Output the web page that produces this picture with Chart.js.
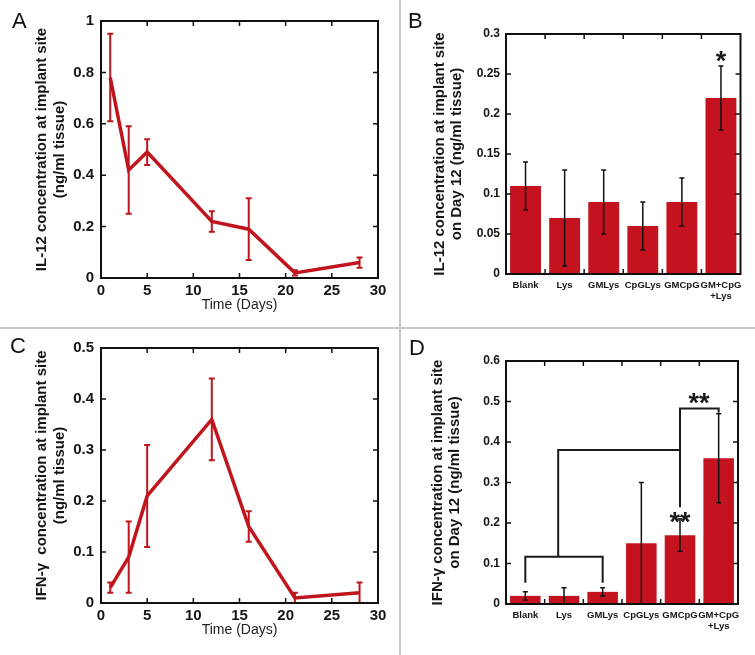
<!DOCTYPE html>
<html><head><meta charset="utf-8">
<script src="https://cdn.jsdelivr.net/npm/chart.js@4.4.0/dist/chart.umd.min.js"></script>
<style>
html,body{margin:0;padding:0;background:#fff;}
#wrap{position:relative;width:755px;height:655px;overflow:hidden;font-family:"Liberation Sans",Arial,Helvetica,sans-serif;}
canvas{position:absolute;}
.lbl{position:absolute;font-size:22px;line-height:22px;color:#111;}
.vdiv{position:absolute;left:399px;top:0;width:2px;height:655px;background:#c8c8c8;}
.hdiv{position:absolute;left:0;top:327px;width:755px;height:2px;background:#c8c8c8;}
</style></head>
<body><div id="wrap">
<canvas id="cA" width="400" height="328" style="left:0;top:0"></canvas>
<canvas id="cB" width="355" height="328" style="left:400px;top:0"></canvas>
<canvas id="cC" width="400" height="327" style="left:0;top:328px"></canvas>
<canvas id="cD" width="355" height="327" style="left:400px;top:328px"></canvas>
<div class="vdiv"></div><div class="hdiv"></div>
<div class="lbl" style="left:12px;top:10px">A</div>
<div class="lbl" style="left:408px;top:10px">B</div>
<div class="lbl" style="left:10px;top:335px">C</div>
<div class="lbl" style="left:409px;top:337px">D</div>
</div>
<script>
// ---------- data ----------
const days = [1, 3, 5, 12, 16, 21, 28];
const il12Time     = [0.78, 0.42, 0.49, 0.22, 0.19, 0.02, 0.06];
const il12TimeLow  = [0.61, 0.25, 0.44, 0.18, 0.07, 0.01, 0.04];
const il12TimeHigh = [0.95, 0.59, 0.54, 0.26, 0.31, 0.03, 0.08];
const ifngTime     = [0.03, 0.09, 0.21, 0.36, 0.15, 0.01, 0.02];
const ifngTimeLow  = [0.02, 0.02, 0.11, 0.28, 0.12, 0.00, 0.00];
const ifngTimeHigh = [0.04, 0.16, 0.31, 0.44, 0.18, 0.02, 0.04];

const groups = ['Blank', 'Lys', 'GMLys', 'CpGLys', 'GMCpG', ['GM+CpG', '+Lys']];
const il12Day12     = [0.11, 0.07, 0.09, 0.06, 0.09, 0.22];
const il12Day12Low  = [0.08, 0.01, 0.05, 0.03, 0.06, 0.18];
const il12Day12High = [0.14, 0.13, 0.13, 0.09, 0.12, 0.26];
const ifngDay12     = [0.02, 0.02, 0.03, 0.15, 0.17, 0.36];
const ifngDay12Low  = [0.01, 0.00, 0.02, 0.00, 0.13, 0.25];
const ifngDay12High = [0.03, 0.04, 0.04, 0.30, 0.21, 0.47];

const timeTicks = [0, 5, 10, 15, 20, 25, 30];
const timeTickLabels = ['0', '5', '10', '15', '20', '25', '30'];
const yTicksA = [0, 0.2, 0.4, 0.6, 0.8, 1];
const yTickLabelsA = ['0', '0.2', '0.4', '0.6', '0.8', '1'];
const yTicksB = [0, 0.05, 0.1, 0.15, 0.2, 0.25, 0.3];
const yTickLabelsB = ['0', '0.05', '0.1', '0.15', '0.2', '0.25', '0.3'];
const yTicksC = [0, 0.1, 0.2, 0.3, 0.4, 0.5];
const yTickLabelsC = ['0', '0.1', '0.2', '0.3', '0.4', '0.5'];
const yTicksD = [0, 0.1, 0.2, 0.3, 0.4, 0.5, 0.6];
const yTickLabelsD = ['0', '0.1', '0.2', '0.3', '0.4', '0.5', '0.6'];

// significance marks (category index, value)
const sigMarksB = [{x: 5, y: 0.274, text: '*'}];
const sigMarksD = [{x: 4.49, y: 0.511, text: '**'}, {x: 4, y: 0.217, text: '**'}];
// brackets in D, as paths of (category index, value)
const bracketsD = [
  [[0, 0.0525], [0, 0.1167], [2, 0.1167], [2, 0.0525]],
  [[0.85, 0.1167], [0.85, 0.38], [4, 0.38]],
  [[4, 0.239], [4, 0.4826], [5, 0.4826], [5, 0.472]]
];

// ---------- styles ----------
const FONT = '"Liberation Sans", Arial, Helvetica, sans-serif';
Chart.defaults.font.family = FONT;
const LINE = '#c0151c';
const BAR = '#c5121f';
const TXT = '#151515';

// ---------- plugins ----------
const errPlugin = {
  id: 'errbars',
  afterDatasetsDraw(chart, args, o) {
    const ds = chart.data.datasets[0];
    if (!ds.errLow) return;
    const meta = chart.getDatasetMeta(0), y = chart.scales.y, ctx = chart.ctx;
    ctx.save();
    ctx.strokeStyle = o.color; ctx.lineWidth = o.width; ctx.lineCap = 'butt';
    meta.data.forEach((el, i) => {
      const x = el.x, y1 = y.getPixelForValue(ds.errLow[i]), y2 = y.getPixelForValue(ds.errHigh[i]);
      ctx.beginPath();
      ctx.moveTo(x, y1); ctx.lineTo(x, y2);
      ctx.moveTo(x - o.cap, y1); ctx.lineTo(x + o.cap, y1);
      ctx.moveTo(x - o.cap, y2); ctx.lineTo(x + o.cap, y2);
      ctx.stroke();
    });
    ctx.restore();
  }
};

const framePlugin = {
  id: 'frame',
  afterDatasetsDraw(chart, args, o) {
    const {ctx, chartArea: a, scales} = chart;
    ctx.save();
    ctx.strokeStyle = '#111';
    const L = 5;
    ctx.lineWidth = 1.5;
    ctx.beginPath();
    let xs;
    if (o.mode === 'category') {
      const n = chart.data.labels.length;
      xs = [];
      for (let k = 1; k < n; k++) xs.push((scales.x.getPixelForValue(k - 1) + scales.x.getPixelForValue(k)) / 2);
    } else {
      xs = scales.x.ticks.map(t => scales.x.getPixelForValue(t.value));
    }
    xs.forEach(x => {
      ctx.moveTo(x, a.bottom); ctx.lineTo(x, a.bottom - L);
      ctx.moveTo(x, a.top); ctx.lineTo(x, a.top + L);
    });
    scales.y.ticks.forEach(t => {
      const y = scales.y.getPixelForValue(t.value);
      ctx.moveTo(a.left, y); ctx.lineTo(a.left + L, y);
      ctx.moveTo(a.right, y); ctx.lineTo(a.right - L, y);
    });
    ctx.stroke();
    ctx.lineWidth = 2;
    ctx.strokeRect(a.left, a.top, a.right - a.left, a.bottom - a.top);
    ctx.restore();
  }
};

const annoPlugin = {
  id: 'anno',
  afterDatasetsDraw(chart, args, o) {
    const ds = chart.data.datasets[0];
    const {ctx, scales} = chart;
    ctx.save();
    if (ds.brackets) {
      ctx.strokeStyle = '#1a1a1a'; ctx.lineWidth = 2; ctx.lineJoin = 'miter';
      ds.brackets.forEach(path => {
        ctx.beginPath();
        path.forEach((p, i) => {
          const px = scales.x.getPixelForValue(p[0]), py = scales.y.getPixelForValue(p[1]);
          if (i === 0) ctx.moveTo(px, py); else ctx.lineTo(px, py);
        });
        ctx.stroke();
      });
    }
    if (ds.marks) {
      ctx.fillStyle = '#1a1a1a';
      ctx.font = 'bold ' + o.size + 'px ' + FONT;
      ctx.textAlign = 'center'; ctx.textBaseline = 'alphabetic';
      ds.marks.forEach(m => {
        const px = scales.x.getPixelForValue(m.x), py = scales.y.getPixelForValue(m.y);
        ctx.fillText(m.text, px, py + o.size * 0.56);
      });
    }
    ctx.restore();
  }
};

function fixedTicks(values) { return s => { s.ticks = values.map(v => ({value: v})); }; }

function timeChart(id, yvals, low, high, yTicks, yLabels, ymax, title, pad, xh, titleBottom) {
  return new Chart(document.getElementById(id), {
    type: 'line',
    data: {datasets: [{
      data: days.map((d, i) => ({x: d, y: yvals[i]})),
      errLow: low, errHigh: high,
      borderColor: LINE, borderWidth: 3.5, pointRadius: 0, tension: 0, fill: false
    }]},
    options: {
      responsive: false, animation: false, devicePixelRatio: 1,
      layout: {padding: pad},
      plugins: {legend: {display: false}, tooltip: {enabled: false},
        errbars: {color: LINE, width: 2, cap: 3}, frame: {mode: 'linear'}},
      scales: {
        x: {type: 'linear', min: 0, max: 30,
          afterBuildTicks: fixedTicks(timeTicks), afterFit: s => { s.height = xh; },
          grid: {display: false, drawTicks: false}, border: {display: false},
          ticks: {padding: 4, color: TXT, font: {size: 15, weight: 'bold'}, maxRotation: 0,
            callback: (v, i) => timeTickLabels[i]},
          title: {display: true, text: 'Time (Days)', color: '#222', font: {size: 14, lineHeight: 1.2},
            padding: {top: 0, bottom: titleBottom}}},
        y: {type: 'linear', min: 0, max: ymax,
          afterBuildTicks: fixedTicks(yTicks), afterFit: s => { s.width = 101; },
          grid: {display: false, drawTicks: false}, border: {display: false},
          ticks: {padding: 7, color: TXT, font: {size: 15, weight: 'bold'}, callback: (v, i) => yLabels[i]},
          title: {display: true, text: title, color: TXT, font: {size: 15, weight: 'bold', lineHeight: 1.2},
            padding: {top: 33, bottom: 0}}}
      }
    },
    plugins: [errPlugin, framePlugin]
  });
}

function barChart(id, yvals, low, high, yTicks, yLabels, ymax, title, pad, xh, titlePad, extras) {
  return new Chart(document.getElementById(id), {
    type: 'bar',
    data: {labels: groups, datasets: [Object.assign({
      data: yvals, errLow: low, errHigh: high,
      backgroundColor: BAR, borderWidth: 0, barPercentage: 0.79, categoryPercentage: 1.0
    }, extras)]},
    options: {
      responsive: false, animation: false, devicePixelRatio: 1,
      layout: {padding: pad},
      plugins: {legend: {display: false}, tooltip: {enabled: false},
        errbars: {color: '#111', width: 1.5, cap: 2.5}, frame: {mode: 'category'}, anno: {size: 27}},
      scales: {
        x: {afterFit: s => { s.height = xh; },
          grid: {display: false, drawTicks: false}, border: {display: false},
          ticks: {padding: 5, color: TXT, font: {size: 9.5, weight: 'bold', lineHeight: 1.25}, maxRotation: 0, autoSkip: false}},
        y: {type: 'linear', min: 0, max: ymax,
          afterBuildTicks: fixedTicks(yTicks), afterFit: s => { s.width = 106; },
          grid: {display: false, drawTicks: false}, border: {display: false},
          ticks: {padding: 6, color: TXT, font: {size: 12, weight: 'bold'}, callback: (v, i) => yLabels[i]},
          title: {display: true, text: title, color: TXT, font: {size: 15, weight: 'bold', lineHeight: 1.12},
            padding: {top: titlePad, bottom: 0}}}
      }
    },
    plugins: [errPlugin, annoPlugin, framePlugin]
  });
}

timeChart('cA', il12Time, il12TimeLow, il12TimeHigh, yTicksA, yTickLabelsA, 1,
  ['IL-12 concentration at implant site', '(ng/ml tissue)'],
  {left: 0, top: 21, right: 22, bottom: 0}, 50, 14);

timeChart('cC', ifngTime, ifngTimeLow, ifngTimeHigh, yTicksC, yTickLabelsC, 0.5,
  ['IFN-\u03b3  concentration at implant site', '(ng/ml tissue)'],
  {left: 0, top: 20, right: 22, bottom: 0}, 52, 16.5);

barChart('cB', il12Day12, il12Day12Low, il12Day12High, yTicksB, yTickLabelsB, 0.3,
  ['IL-12 concentration at implant site', 'on Day 12 (ng/ml tissue)'],
  {left: 0, top: 34, right: 14.5, bottom: 0}, 54, 31.5, {marks: sigMarksB});

barChart('cD', ifngDay12, ifngDay12Low, ifngDay12High, yTicksD, yTickLabelsD, 0.6,
  ['IFN-\u03b3 concentration at implant site', 'on Day 12 (ng/ml tissue)'],
  {left: 0, top: 33, right: 17, bottom: 0}, 51, 29.5, {marks: sigMarksD, brackets: bracketsD});
</script>
</body></html>
